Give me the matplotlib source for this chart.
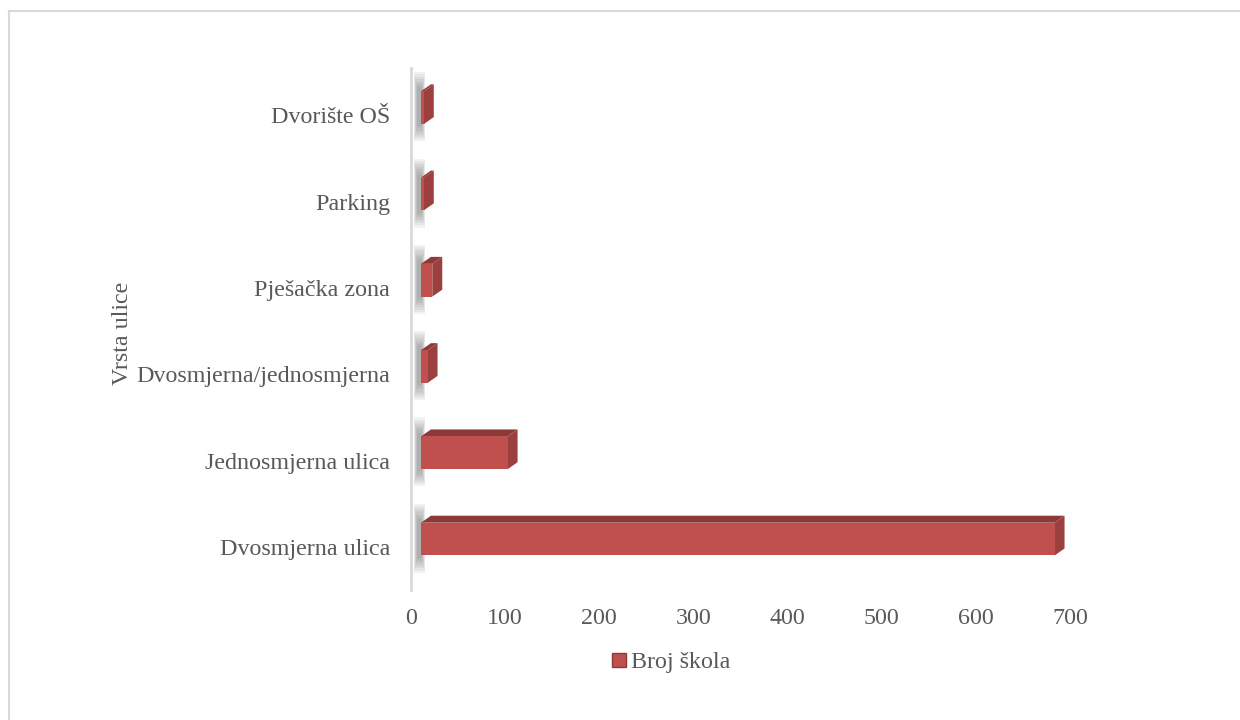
import matplotlib.pyplot as plt
from matplotlib.patches import Polygon, Rectangle
from matplotlib.lines import Line2D

plt.rcParams['font.family'] = ['Liberation Serif', 'DejaVu Serif']

categories = ['Dvosmjerna ulica', 'Jednosmjerna ulica', 'Dvosmjerna/jednosmjerna',
              'Pješačka zona', 'Parking', 'Dvorište OŠ']
values = [673, 92, 7, 12, 3, 3]
x_ticks = [0, 100, 200, 300, 400, 500, 600, 700]
series_name = 'Broj škola'
axis_title = 'Vrsta ulice'

text_col = '#595959'
front_col = '#C0504D'
top_col = '#8C3A38'
side_col = '#9B403E'

fig = plt.figure(figsize=(12.4, 7.2), dpi=100)
ax = fig.add_axes([411 / 1240, 130 / 720, 659 / 1240, 522 / 720])

# fake 3d geometry, in data units
base = 10.6     # gap between wall and front face
dx = 10.6       # depth to the right
dy = 0.081      # depth upwards
h = 0.38        # bar thickness
lift = 0.09     # front face sits a bit above the category centre

for i, v in enumerate(values):
    yc = i + lift
    y0, y1 = yc - h / 2, yc + h / 2
    x0, x1 = base, base + v
    # soft blurry shadow on the wall
    for k in range(8):
        ax.add_patch(Rectangle((3 + k * 0.5, y0 - 0.2 + k * 0.025), 12 - k * 1.0,
                               h + 0.42 - k * 0.05, color='#606060', alpha=0.08,
                               lw=0, zorder=1))
    ax.add_patch(Polygon([(x0, y1), (x1, y1), (x1 + dx, y1 + dy), (x0 + dx, y1 + dy)],
                         closed=True, fc=top_col, ec='none', zorder=3))
    ax.add_patch(Polygon([(x1, y0), (x1 + dx, y0 + dy), (x1 + dx, y1 + dy), (x1, y1)],
                         closed=True, fc=side_col, ec='none', zorder=3))
    ax.barh(yc, v, height=h, left=x0, color=front_col, zorder=4)

ax.set_xlim(0, 700)
ax.set_ylim(-0.5, 5.55)
ax.set_xticks(x_ticks)
ax.set_xticklabels([str(t) for t in x_ticks])
ax.set_yticks(range(len(categories)))
ax.set_yticklabels(categories)
ax.tick_params(axis='both', length=0, labelsize=17.3, labelcolor=text_col)
ax.tick_params(axis='x', pad=13)
ax.tick_params(axis='y', pad=15)
for s in ['top', 'right', 'bottom']:
    ax.spines[s].set_visible(False)
ax.spines['left'].set_color('#D9D9D9')
ax.spines['left'].set_linewidth(2)

fig.text(122 / 1240, 387 / 720, axis_title, rotation=90, ha='center', va='center',
         fontsize=17.3, color=text_col)

handle = Line2D([], [], marker='s', linestyle='none', markersize=10,
                markerfacecolor=front_col, markeredgecolor='#8C3A38')
fig.legend([handle], [series_name], loc='center', bbox_to_anchor=(670 / 1240, 58 / 720),
           frameon=False, fontsize=17.3, labelcolor=text_col, handletextpad=0.1,
           handlelength=0.8)

# chart frame (only top and left edges visible in the crop)
fig.add_artist(Line2D([9 / 1240, 9 / 1240], [0, 709 / 720], color='#D9D9D9', lw=1.5))
fig.add_artist(Line2D([9 / 1240, 1], [709 / 720, 709 / 720], color='#D9D9D9', lw=1.5))

fig.savefig('out.png', dpi=100)
